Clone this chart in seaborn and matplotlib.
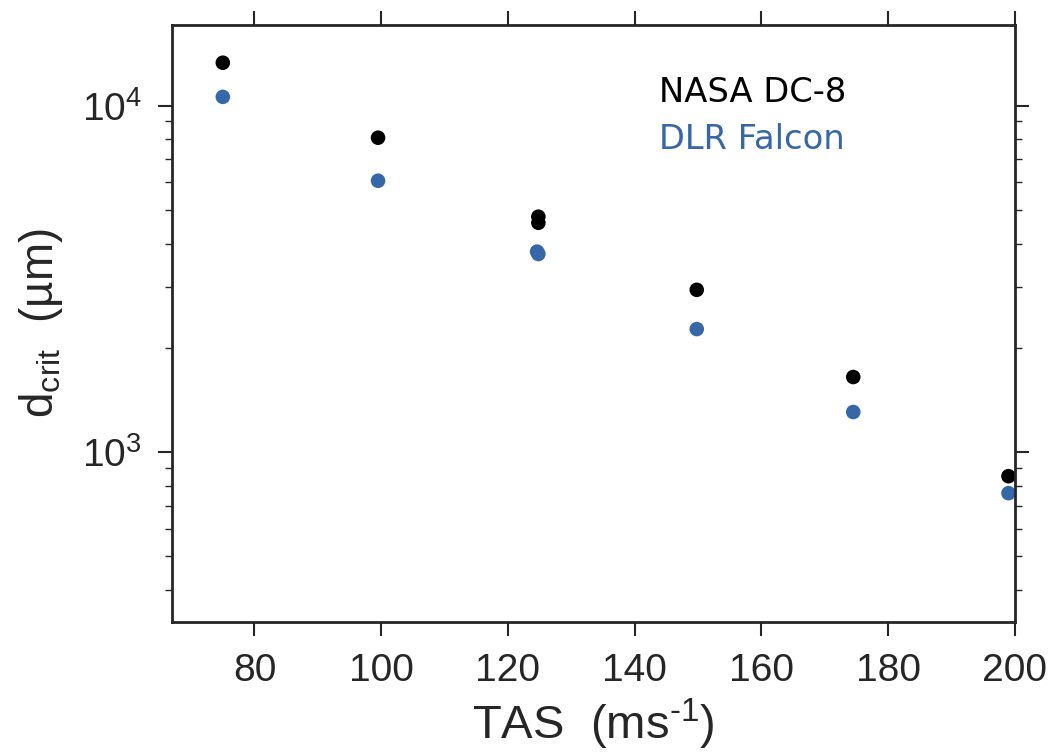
import numpy as np
import pandas as pd
import matplotlib
matplotlib.use("Agg")
import matplotlib.pyplot as plt
import seaborn as sns

# values
tas_dc8 = [75.0, 99.5, 124.8, 124.8, 149.8, 174.5, 199.0]
dcrit_dc8 = [13300, 8080, 4780, 4590, 2940, 1647, 852]
tas_falcon = [75.0, 99.5, 124.6, 124.8, 149.8, 174.5, 199.0]
dcrit_falcon = [10600, 6070, 3790, 3730, 2265, 1305, 761]
aircraft = ["NASA DC-8", "DLR Falcon"]
colors = ["black", "#3567a9"]

df = pd.DataFrame({
    "tas": tas_dc8 + tas_falcon,
    "dcrit": dcrit_dc8 + dcrit_falcon,
    "aircraft": [aircraft[0]] * len(tas_dc8) + [aircraft[1]] * len(tas_falcon),
})

sns.set_theme(style="ticks")
plt.rcParams["font.family"] = ["Liberation Sans", "DejaVu Sans"]
plt.rcParams["mathtext.fontset"] = "custom"
plt.rcParams["mathtext.rm"] = "Liberation Sans"
plt.rcParams["mathtext.it"] = "Liberation Sans"
plt.rcParams["mathtext.bf"] = "Liberation Sans:bold"

fig = plt.figure(figsize=(10.56, 7.55), dpi=100)
ax = fig.add_axes([0.163, 0.176, 0.798, 0.791])

sns.scatterplot(data=df, x="tas", y="dcrit", hue="aircraft",
                palette=dict(zip(aircraft, colors)), s=110, linewidth=0,
                ax=ax)

ax.set_yscale("log")
ax.set_xlim(67, 200)
ax.set_ylim(323, 17100)
ax.set_xticks([80, 100, 120, 140, 160, 180, 200])

for side in ["top", "right", "left", "bottom"]:
    ax.spines[side].set_visible(True)
    ax.spines[side].set_linewidth(2.0)
    ax.spines[side].set_color("#262626")

ax.tick_params(which="major", direction="out", length=10, width=1.5,
               labelsize=28, colors="#262626", top=True, right=True)
ax.tick_params(axis="x", which="major", pad=12)
ax.tick_params(axis="y", which="major", pad=12)
ax.tick_params(which="minor", direction="out", length=5, width=1.0,
               colors="#262626", top=False, right=True, left=True)
ax.tick_params(axis="x", which="minor", bottom=False, top=False)

ax.set_xlabel("TAS  (ms$^{\\text{-}1}$)", fontsize=34, color="#262626", labelpad=6)
ax.set_ylabel("d$_{\\rm crit}$  (µm)", fontsize=33, color="#262626", labelpad=12)

leg = ax.legend(loc="upper left", bbox_to_anchor=(0.578, 0.915), frameon=False,
                handlelength=0, handletextpad=0, borderpad=0, borderaxespad=0,
                labelspacing=0.42, prop={"family": "DejaVu Sans", "size": 24.3})
for h in leg.legend_handles:
    h.set_visible(False)
for txt, c in zip(leg.get_texts(), colors):
    txt.set_color(c)

fig.savefig("out.png", dpi=100)
